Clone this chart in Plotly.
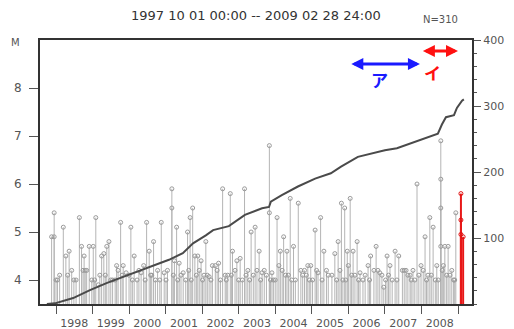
import pandas as pd
import plotly.graph_objects as go

# ---------------- data ----------------
# event times as decimal years, magnitudes M (gray events)
event_year = [
    1997.88, 1997.95, 1997.95, 1998.04, 1998.20, 1998.27, 1998.36, 1998.43, 1998.64, 1998.70,
    1998.77, 1998.84, 1998.91, 1998.98, 1999.02, 1999.09, 1999.16, 1999.25, 1999.31, 1999.39,
    1999.45, 1999.66, 1999.77, 1999.84, 1999.92, 2000.05, 2000.14, 2000.33, 2000.48, 2000.55,
    2000.67, 2000.78, 2000.88, 2000.96, 2001.17, 2001.17, 2001.24, 2001.30, 2001.37, 2001.48,
    2001.60, 2001.67, 2001.74, 2001.80, 2001.88, 2001.97, 2002.10, 2002.19, 2002.36, 2002.45,
    2002.56, 2002.63, 2002.77, 2002.83, 2002.95, 2003.04, 2003.16, 2003.25, 2003.34, 2003.45,
    2003.56, 2003.64, 2003.84, 2003.84, 2003.91, 2004.05, 2004.14, 2004.23, 2004.32, 2004.41,
    2004.50, 2004.63, 2004.80, 2004.89, 2004.97, 2005.09, 2005.17, 2005.24, 2005.33, 2005.63,
    2005.72, 2005.81, 2005.90, 2005.97, 2006.05, 2006.13, 2006.24, 2006.32, 2006.54, 2006.61,
    2006.76, 2006.86, 2006.97, 2007.06, 2007.14, 2007.28, 2007.38, 2007.58, 2007.69, 2007.77,
    2007.88, 2007.99, 2008.10, 2008.23, 2008.32, 2008.42, 2008.53, 2008.53, 2008.53, 2008.53,
    2008.64, 2008.73, 2008.83, 2008.94,
    # smaller events filling the lower band
    1998.10, 1998.55, 1998.80, 1999.20, 1999.55, 1999.70, 2000.00, 2000.22, 2000.40, 2000.62,
    2000.72, 2001.05, 2001.42, 2001.55, 2001.92, 2002.05, 2002.28, 2002.50, 2002.70, 2002.90,
    2003.10, 2003.40, 2003.70, 2003.95, 2004.10, 2004.28, 2004.45, 2004.70, 2004.85, 2005.02,
    2005.40, 2005.55, 2005.85, 2006.00, 2006.18, 2006.40, 2006.70, 2006.92, 2007.20, 2007.48,
    2007.63, 2007.82, 2008.05, 2008.18, 2008.38, 2008.60, 2008.78, 2008.88,
    1998.00, 1998.32, 1998.49, 1998.74, 1999.06, 1999.35, 1999.50, 1999.62, 1999.81, 2000.09,
    2000.27, 2000.44, 2000.59, 2000.84, 2001.01, 2001.21, 2001.33, 2001.63, 2001.70, 2001.84,
    2002.01, 2002.14, 2002.24, 2002.41, 2002.66, 2002.80, 2003.00, 2003.20, 2003.30, 2003.50,
    2003.60, 2003.76, 2003.87, 2004.00, 2004.19, 2004.36, 2004.55, 2004.75, 2004.93, 2005.13,
    2005.28, 2005.45, 2005.68, 2005.77, 2005.93, 2006.09, 2006.28, 2006.46, 2006.58, 2006.81,
    2007.02, 2007.10, 2007.33, 2007.53, 2007.72, 2007.93, 2008.14, 2008.27, 2008.46, 2008.57,
    2008.69, 2008.91,
]
event_mag = [
    4.9, 5.4, 4.9, 4.0, 5.1, 4.5, 4.6, 4.2, 5.3, 4.7,
    4.5, 4.2, 4.7, 4.0, 4.7, 5.3, 3.9, 4.5, 4.55, 4.7,
    4.8, 4.3, 5.2, 4.3, 4.15, 5.1, 4.5, 4.15, 5.2, 4.6,
    4.8, 4.2, 5.2, 4.15, 5.9, 5.5, 4.4, 5.1, 4.35, 4.15,
    5.0, 5.3, 5.5, 4.5, 4.5, 4.4, 4.8, 4.07, 4.3, 4.35,
    5.9, 4.1, 5.8, 4.6, 4.4, 4.45, 5.9, 4.2, 5.0, 5.1,
    4.6, 4.15, 6.8, 5.4, 4.15, 5.3, 4.6, 4.9, 4.6, 5.7,
    4.7, 5.6, 4.2, 4.3, 4.3, 5.04, 4.15, 5.3, 4.6, 4.55,
    4.8, 5.6, 5.5, 4.6, 5.7, 4.6, 4.8, 4.15, 4.3, 4.5,
    4.7, 4.15, 3.85, 4.5, 4.3, 4.6, 4.5, 4.2, 4.1, 4.2,
    6.0, 4.3, 4.9, 5.3, 5.1, 4.3, 6.9, 6.1, 5.5, 4.7,
    4.7, 4.7, 4.2, 5.4,
    4.1, 4.0, 4.2, 4.1, 4.0, 4.2, 4.1, 4.0, 4.3, 4.1,
    4.0, 4.2, 4.1, 4.0, 4.2, 4.1, 4.3, 4.0, 4.1, 4.2,
    4.0, 4.1, 4.2, 4.0, 4.3, 4.1, 4.0, 4.2, 4.1, 4.0,
    4.2, 4.1, 4.0, 4.3, 4.1, 4.0, 4.2, 4.1, 4.0, 4.2,
    4.1, 4.0, 4.2, 4.1, 4.0, 4.3, 4.1, 4.0,
    4.0, 4.1, 4.0, 4.2, 4.0, 4.1, 4.0, 4.0, 4.1, 4.0,
    4.2, 4.0, 4.1, 4.0, 4.0, 4.1, 4.0, 4.2, 4.0, 4.1,
    4.0, 4.1, 4.0, 4.2, 4.0, 4.1, 4.0, 4.1, 4.0, 4.2,
    4.0, 4.1, 4.0, 4.0, 4.2, 4.1, 4.0, 4.1, 4.0, 4.2,
    4.0, 4.1, 4.0, 4.2, 4.0, 4.1, 4.0, 4.1, 4.0, 4.2,
    4.0, 4.1, 4.0, 4.2, 4.0, 4.1, 4.0, 4.1, 4.0, 4.2,
    4.1, 4.0,
]
# highlighted (red) events, period "イ"
red_year = [2009.08, 2009.08, 2009.08, 2009.14]
red_mag = [5.8, 5.25, 4.95, 4.9]

# cumulative number of events (right axis)
cum_year = [1997.75, 1997.97, 1998.47, 1998.93, 1999.40, 1999.92, 2000.38, 2000.82, 2001.09, 2001.47,
            2001.75, 2002.10, 2002.30, 2002.73, 2003.17, 2003.64, 2003.83, 2003.88, 2004.18, 2004.62,
            2005.09, 2005.52, 2005.80, 2006.26, 2006.67, 2007.00, 2007.33, 2007.96, 2008.45, 2008.56,
            2008.67, 2008.89, 2008.97, 2009.11, 2009.16]
cum_count = [0, 1, 9, 21, 32, 43, 53, 62, 67, 77,
             92, 104, 112, 118, 135, 145, 147, 155, 165, 178,
             190, 198, 208, 223, 229, 233, 236, 248, 258, 272,
             283, 286, 297, 308, 310]

M_BASE = 3.5
M_TOP = 9.0
N_TOP = 400
x_start, x_end = 1997.562, 2009.383
blue_period = (2006.04, 2007.96)
red_period = (2008.00, 2009.00)

title_text = "1997 10 01 00:00 -- 2009 02 28 24:00"
n_text = "N=310"


def dec2date(y):
    yr = int(y)
    a = pd.Timestamp(yr, 1, 1)
    b = pd.Timestamp(yr + 1, 1, 1)
    return a + (b - a) * (y - yr)


ev_x = [dec2date(v) for v in event_year]
red_x = [dec2date(v) for v in red_year]
cum_x = [dec2date(v) for v in cum_year]

GRAY_LINE = "#b4b4b4"
TXT = "#555555"
FONT = "DejaVu Sans"

fig = go.Figure()

fig.add_trace(go.Scatter(
    x=ev_x, y=event_mag, mode="markers",
    marker=dict(symbol="circle-open", size=4, color="#9a9a9a", line=dict(width=1)),
    error_y=dict(type="data", symmetric=False, array=[0] * len(event_mag),
                 arrayminus=[m - M_BASE for m in event_mag], width=0,
                 thickness=1, color=GRAY_LINE),
    showlegend=False, hoverinfo="skip", cliponaxis=False,
))

fig.add_trace(go.Scatter(
    x=red_x, y=red_mag, mode="markers",
    marker=dict(symbol="circle-open", size=4, color="#e01010", line=dict(width=1)),
    error_y=dict(type="data", symmetric=False, array=[0] * len(red_mag),
                 arrayminus=[m - M_BASE for m in red_mag], width=0,
                 thickness=2, color="#e81818"),
    showlegend=False, hoverinfo="skip",
))

fig.add_trace(go.Scatter(
    x=cum_x, y=cum_count, mode="lines", yaxis="y2",
    line=dict(color="#4a4a4a", width=2),
    showlegend=False, hoverinfo="skip",
))

axis_common = dict(showgrid=False, zeroline=False, showline=True, linecolor="#333333",
                   linewidth=2, tickcolor="#555555", automargin=False,
                   tickfont=dict(family=FONT, color=TXT))

fig.update_layout(
    width=514, height=329,
    margin=dict(l=40, r=42, t=40, b=25),
    paper_bgcolor="white", plot_bgcolor="white",
    xaxis=dict(**axis_common, type="date",
               range=[dec2date(x_start), dec2date(x_end)],
               tick0="1998-01-01", dtick="M12", tickformat="%Y",
               ticklabelmode="period", ticks="outside", ticklen=8, mirror=True),
    yaxis=dict(**axis_common, range=[M_BASE, M_TOP], tickvals=[4, 5, 6, 7, 8],
               ticks="outside", ticklen=9, ticklabelstandoff=5),
    yaxis2=dict(**axis_common, overlaying="y", side="right", range=[0, N_TOP],
                tickvals=[100, 200, 300, 400], ticks="outside", ticklen=7,
                minor=dict(dtick=20, ticks="outside", ticklen=3, tickcolor="#555555")),
)
fig.update_xaxes(tickfont_size=11)
fig.update_yaxes(tickfont_size=12)
fig.update_layout(yaxis2_tickfont_size=11)

annotations = [
    dict(text=title_text, xref="paper", yref="paper", x=0.5, y=1.091,
         showarrow=False, font=dict(family=FONT, size=13, color="#333333"), xanchor="center", yanchor="middle"),
    dict(text=n_text, xref="paper", yref="paper", x=0.928, y=1.076,
         showarrow=False, font=dict(family=FONT, size=10, color=TXT), xanchor="center", yanchor="middle"),
    dict(text="M", xref="paper", yref="paper", x=-0.056, y=0.989,
         showarrow=False, font=dict(family=FONT, size=10, color=TXT), xanchor="center", yanchor="middle"),
    # blue double arrow (ア)
    dict(x=dec2date(blue_period[1]), y=8.5, ax=dec2date(blue_period[0]), ay=8.5,
         xref="x", yref="y", axref="x", ayref="y", text="", showarrow=True,
         arrowhead=2, startarrowhead=2, arrowside="end+start", arrowwidth=3,
         arrowsize=0.8, startarrowsize=0.8, arrowcolor="#1a1aff"),
    dict(text="<b>ア</b>", x=dec2date(2006.86), y=8.17, xref="x", yref="y", showarrow=False,
         font=dict(family="Noto Sans CJK JP", size=17, color="#1a1aff"), xanchor="center", yanchor="middle"),
    # red double arrow (イ)
    dict(x=dec2date(red_period[1]), y=8.77, ax=dec2date(red_period[0]), ay=8.77,
         xref="x", yref="y", axref="x", ayref="y", text="", showarrow=True,
         arrowhead=2, startarrowhead=2, arrowside="end+start", arrowwidth=3,
         arrowsize=0.8, startarrowsize=0.8, arrowcolor="#ff1010"),
    dict(text="<b>イ</b>", x=dec2date(2008.29), y=8.33, xref="x", yref="y", showarrow=False,
         font=dict(family="Noto Sans CJK JP", size=17, color="#ff1010"), xanchor="center", yanchor="middle"),
]
fig.update_layout(annotations=annotations)

fig.write_html(
    "out.html",
    config={"displayModeBar": False},
    post_script="document.body.style.margin='0';document.body.style.overflow='hidden';",
)
